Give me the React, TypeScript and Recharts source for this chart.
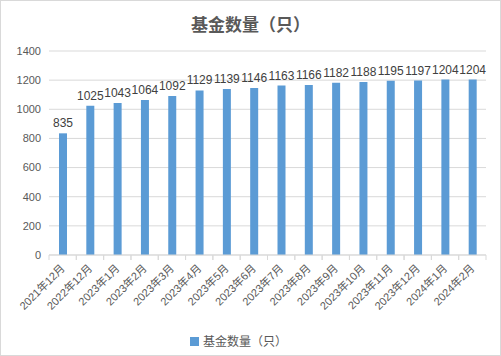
import React from 'react';
import { BarChart, Bar, XAxis, YAxis, CartesianGrid, Legend, LabelList } from 'recharts';

const months = [
  '2021年12月', '2022年12月', '2023年1月', '2023年2月', '2023年3月', '2023年4月',
  '2023年5月', '2023年6月', '2023年7月', '2023年8月', '2023年9月', '2023年10月',
  '2023年11月', '2023年12月', '2024年1月', '2024年2月',
];
const fundCounts = [835, 1025, 1043, 1064, 1092, 1129, 1139, 1146, 1163, 1166, 1182, 1188, 1195, 1197, 1204, 1204];
const yTicks = [0, 200, 400, 600, 800, 1000, 1200, 1400];

const seriesName = '基金数量（只）';
const data = months.map((m, i) => ({ month: m, value: fundCounts[i] }));

const FONT = '"Liberation Sans", "Noto Sans CJK SC", sans-serif';

const MonthTick = (props: any) => {
  const { x, y, payload } = props;
  const half = 437 / months.length / 2;
  return (
    <g>
      <line x1={x - half} y1={y - 8} x2={x - half} y2={y - 3} stroke="#d9d9d9" />
      <line x1={x + half} y1={y - 8} x2={x + half} y2={y - 3} stroke="#d9d9d9" />
      <text
        x={x + 3}
        y={y + 6}
        transform={`rotate(-45, ${x + 3}, ${y + 6})`}
        textAnchor="end"
        fontSize={11}
        fill="#595959"
        fontFamily={FONT}
      >
        {payload.value}
      </text>
    </g>
  );
};

export default function App() {
  return (
    <div
      style={{
        position: 'absolute',
        left: 0,
        top: 0,
        width: 499,
        height: 354,
        border: '1px solid #d9d9d9',
        background: '#fff',
        fontFamily: FONT,
      }}
    >
      <div
        style={{
          position: 'absolute',
          top: 10,
          width: '100%',
          textAlign: 'center',
          fontSize: 17,
          fontWeight: 'bold',
          color: '#595959',
          fontFamily: '"Noto Sans CJK SC", sans-serif',
        }}
      >
        基金数量（只）
      </div>
      <BarChart
        width={499}
        height={354}
        data={data}
        margin={{ top: 50, right: 14, left: 0, bottom: 5 }}
        barCategoryGap={0}
      >
        <CartesianGrid vertical={false} stroke="#d9d9d9" />
        <XAxis
          dataKey="month"
          interval={0}
          height={77}
          stroke="#d9d9d9"
          tickLine={false}
          tick={<MonthTick />}
        />
        <YAxis
          width={48}
          domain={[0, 1400]}
          ticks={yTicks}
          axisLine={false}
          tickLine={false}
          tick={{ fontSize: 11, fill: '#595959', fontFamily: FONT }}
        />
        <Legend
          verticalAlign="bottom"
          iconType="square"
          iconSize={9}
          formatter={(v: string) => (
            <span style={{ color: '#595959', fontSize: 12, fontFamily: '"Noto Sans CJK SC", sans-serif' }}>{v}</span>
          )}
        />
        <Bar dataKey="value" name={seriesName} fill="#5b9bd5" barSize={8} isAnimationActive={false}>
          <LabelList dataKey="value" position="top" fontSize={12} fill="#404040" fontFamily={FONT} offset={6} />
        </Bar>
      </BarChart>
    </div>
  );
}
